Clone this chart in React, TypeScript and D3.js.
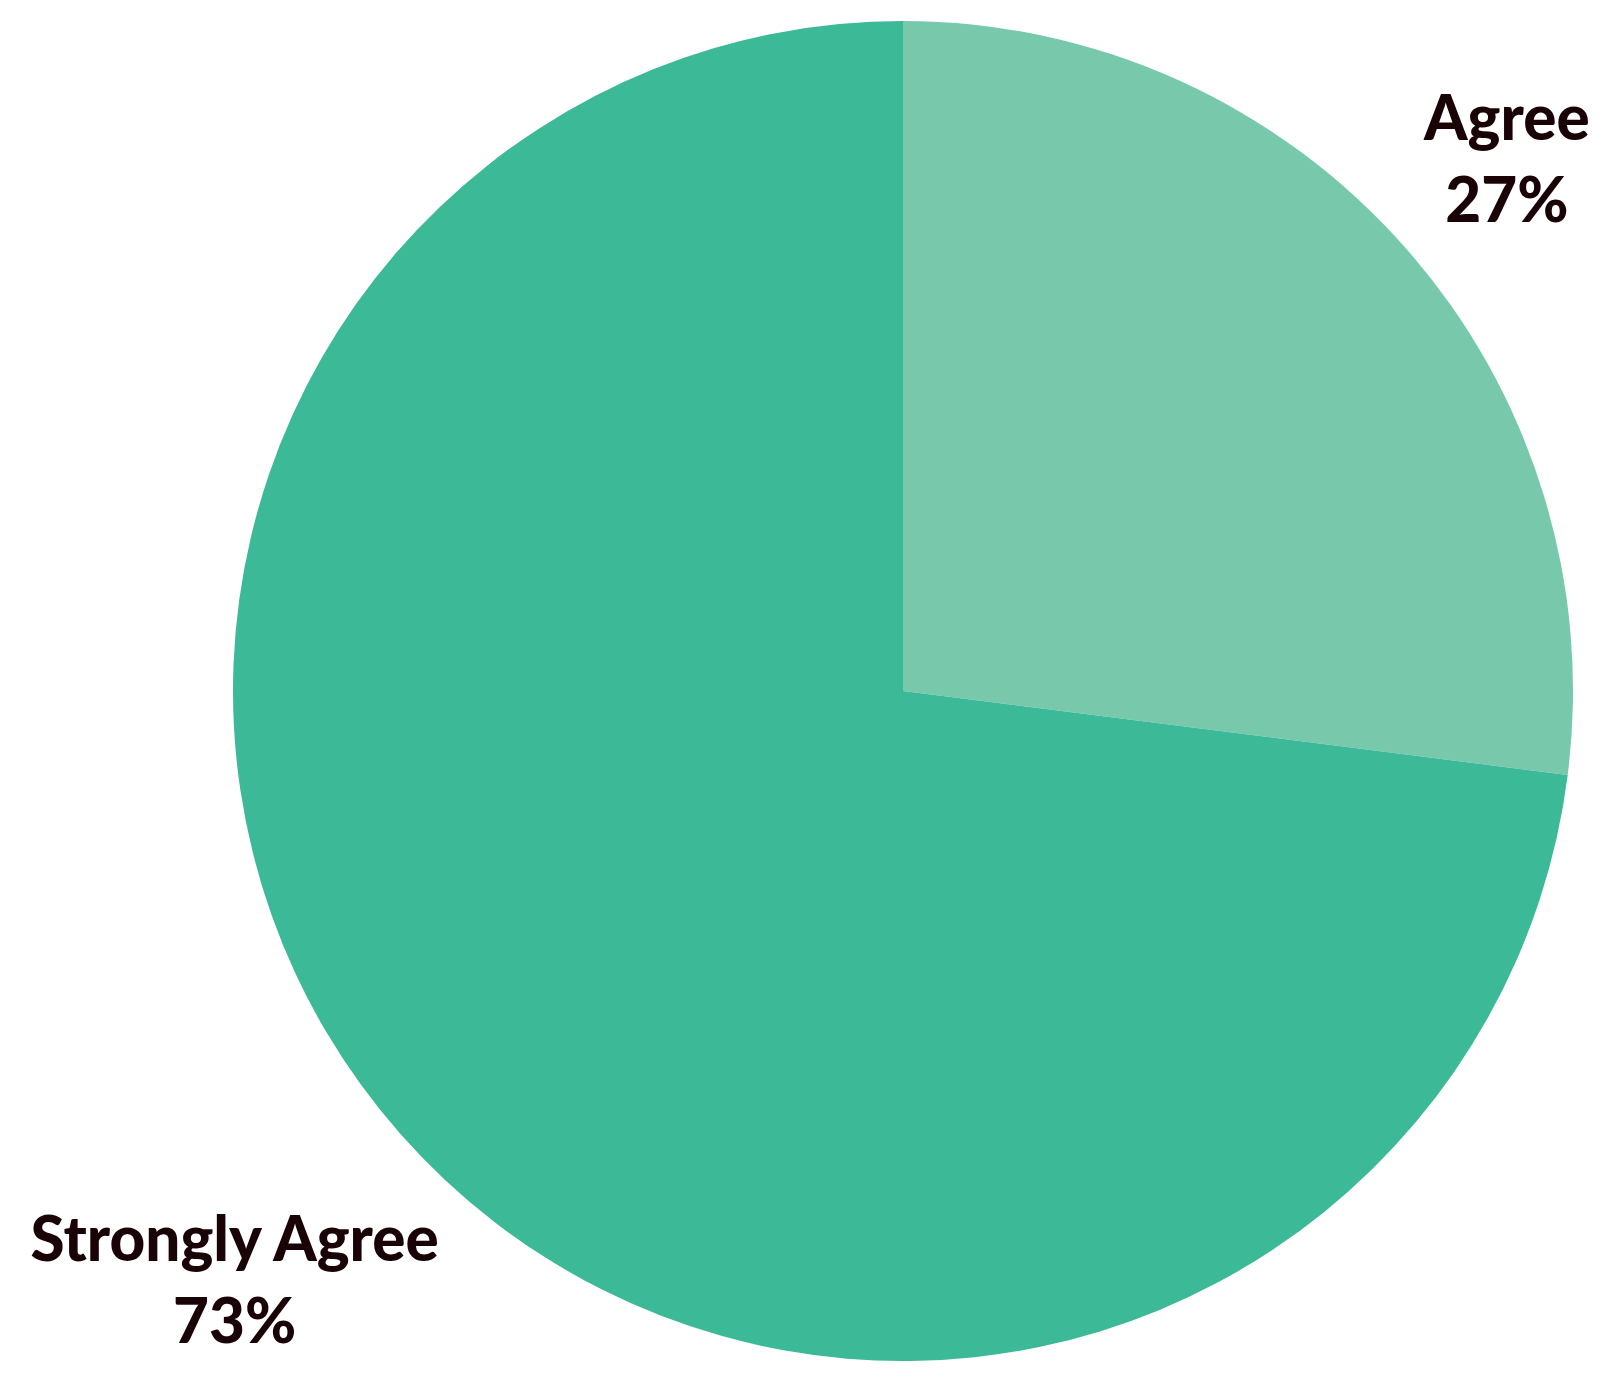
import React from "react";
import * as d3 from "d3";

const categories = ["Agree", "Strongly Agree"];
const values = [27, 73];
const colors = ["#78c9ac", "#3cb997"];
const labelRadius = [805, 891];

const W = 1610;
const H = 1382;
const cx = 903;
const cy = 691;
const R = 670;

export default function App() {
  const pie = d3.pie<number>().sort(null).value((d) => d)(values);
  const arc = d3.arc<d3.PieArcDatum<number>>().innerRadius(0).outerRadius(R);
  return (
    <svg width={W} height={H} style={{ position: "absolute", left: 0, top: 0 }}>
      <rect width={W} height={H} fill="#fff" />
      <g transform={`translate(${cx},${cy})`}>
        {pie.map((p, i) => (
          <path key={i} d={arc(p) || ""} fill={colors[i]} />
        ))}
        {pie.map((p, i) => {
          const a = (p.startAngle + p.endAngle) / 2;
          const x = Math.sin(a) * labelRadius[i];
          const y = -Math.cos(a) * labelRadius[i];
          return (
            <text
              key={"l" + i}
              x={x}
              y={y}
              textAnchor="middle"
              fill="#1a0306"
              fontFamily="Lato, 'Open Sans', sans-serif"
              fontWeight={900}
              fontSize={62}
            >
              <tspan x={x} dy={-19}>{categories[i]}</tspan>
              <tspan x={x} dy={82}>{`${values[i]}%`}</tspan>
            </text>
          );
        })}
      </g>
    </svg>
  );
}
